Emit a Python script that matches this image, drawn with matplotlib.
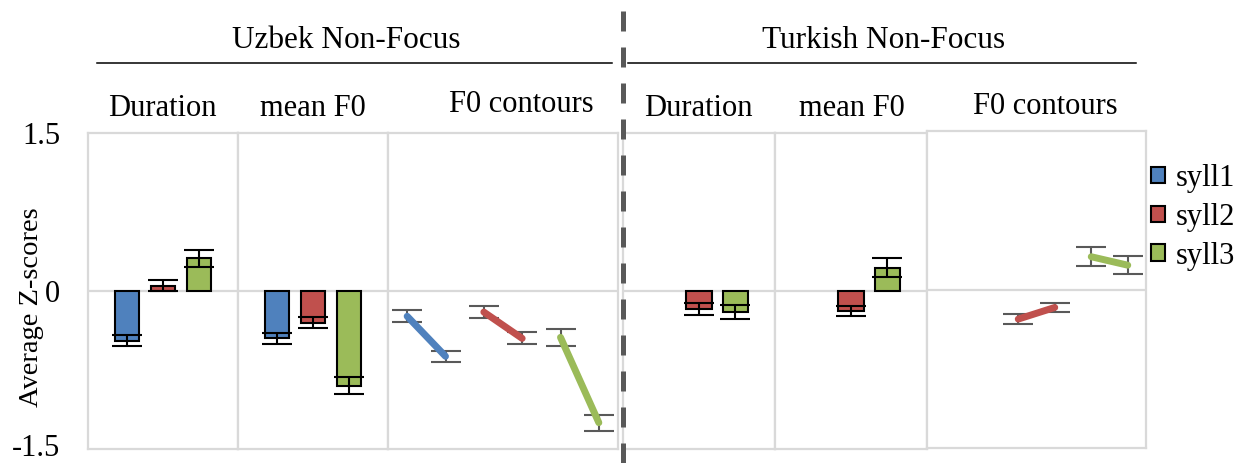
import numpy as np
import matplotlib
matplotlib.use("Agg")
import matplotlib.pyplot as plt
from matplotlib.lines import Line2D
from matplotlib.patches import Patch
from matplotlib.transforms import ScaledTranslation

plt.rcParams['font.family'] = ['Liberation Serif', 'DejaVu Serif']

# ---------------- data ----------------
series = ["syll1", "syll2", "syll3"]
colors = ["#4F81BD", "#C0504D", "#9BBB59"]

uz_dur_mean = [-0.47, 0.05, 0.31]
uz_dur_err = [0.05, 0.05, 0.08]
uz_f0_mean = [-0.45, -0.30, -0.90]
uz_f0_err = [0.05, 0.055, 0.08]
uz_cont_start = [-0.24, -0.20, -0.44]
uz_cont_end = [-0.62, -0.45, -1.25]
uz_cont_start_err = [0.055, 0.055, 0.08]
uz_cont_end_err = [0.05, 0.057, 0.075]

tr_dur_mean = [np.nan, -0.17, -0.20]
tr_dur_err = [np.nan, 0.057, 0.063]
tr_f0_mean = [np.nan, -0.19, 0.22]
tr_f0_err = [np.nan, 0.045, 0.09]
tr_cont_start = [np.nan, -0.28, 0.31]
tr_cont_end = [np.nan, -0.17, 0.23]
tr_cont_start_err = [np.nan, 0.05, 0.09]
tr_cont_end_err = [np.nan, 0.045, 0.085]

yticks = [-1.5, 0, 1.5]
ytick_labels = ["-1.5", "0", "1.5"]
group_titles = ["Uzbek Non-Focus", "Turkish Non-Focus"]
panel_titles = ["Duration", "mean F0", "F0 contours"]
ylabel = "Average Z-scores"

# ---------------- layout ----------------
W, H = 1239, 463
fig = plt.figure(figsize=(W / 100, H / 100), dpi=100)
FS = 22


def rect(x0, x1, y0, y1):
    return [x0 / W, 1 - y1 / H, (x1 - x0) / W, (y1 - y0) / H]


grid_c = "#d9d9d9"
err_gray = "#595959"


def style(ax):
    ax.set_ylim(-1.5, 1.5)
    for s in ax.spines.values():
        s.set_color(grid_c)
        s.set_linewidth(1.6)
    ax.axhline(0, color=grid_c, lw=1.6, zorder=1)
    ax.set_xticks([])
    ax.set_yticks([])


def bar_panel(ax, means, errs):
    style(ax)
    x = np.arange(len(means))
    ax.set_xlim(1 - 75 / 36, 1 + 75 / 36)
    for i in range(len(means)):
        if np.isnan(means[i]):
            continue
        ax.bar(x[i], means[i], width=0.69, color=colors[i], edgecolor="black",
               linewidth=1.5, zorder=2)
        ax.errorbar(x[i], means[i], yerr=errs[i], fmt="none", ecolor="black",
                    elinewidth=1.5, capsize=11, capthick=1.5, zorder=3)


def contour_panel(ax, starts, ends, serr, eerr):
    style(ax)
    pos = np.arange(2 * len(starts)).reshape(len(starts), 2)
    ax.set_xlim(-0.5, 2 * len(starts) - 0.5)
    for i in range(len(starts)):
        if np.isnan(starts[i]):
            continue
        ax.errorbar(pos[i], [starts[i], ends[i]], yerr=[serr[i], eerr[i]], fmt="none",
                    ecolor=err_gray, elinewidth=1.5, capsize=11, capthick=1.5, zorder=2)
        ax.plot(pos[i], [starts[i], ends[i]], color=colors[i], lw=5,
                solid_capstyle="round", zorder=3)


ax1 = fig.add_axes(rect(88, 238, 133, 449))
ax2 = fig.add_axes(rect(238, 388, 133, 449))
ax3 = fig.add_axes(rect(388, 618, 133, 449))
ax4 = fig.add_axes(rect(623, 775, 133, 449))
ax5 = fig.add_axes(rect(775, 927, 133, 449))
ax6 = fig.add_axes(rect(927, 1146, 131, 448))

bar_panel(ax1, uz_dur_mean, uz_dur_err)
bar_panel(ax2, uz_f0_mean, uz_f0_err)
contour_panel(ax3, uz_cont_start, uz_cont_end, uz_cont_start_err, uz_cont_end_err)
bar_panel(ax4, tr_dur_mean, tr_dur_err)
bar_panel(ax5, tr_f0_mean, tr_f0_err)
contour_panel(ax6, tr_cont_start, tr_cont_end, tr_cont_start_err, tr_cont_end_err)

# y tick labels on first panel
ax1.set_yticks(yticks)
ax1.set_yticklabels(ytick_labels, fontsize=FS)
ax1.tick_params(axis="y", length=0, pad=20)
# lift the bottom label slightly so it stays inside the canvas
bottom_lab = ax1.yaxis.get_major_ticks()[0].label1
bottom_lab.set_transform(bottom_lab.get_transform()
                         + ScaledTranslation(0, 4 / 100, fig.dpi_scale_trans))
ax1.set_ylabel(ylabel, fontsize=20.5)
ax1.yaxis.set_label_coords(-44 / 150, (449 - 307) / 316)


def ftext(x, y, s, **kw):
    fig.text(x / W, 1 - y / H, s, ha="center", va="baseline", **kw)


# group headers
ftext(346, 48, group_titles[0], fontsize=FS + 0.5)
ftext(884, 48, group_titles[1], fontsize=FS + 0.5)
fig.add_artist(Line2D([97 / W, 612 / W], [1 - 62.5 / H] * 2, color="black", lw=1.1))
fig.add_artist(Line2D([628 / W, 1136 / W], [1 - 62.5 / H] * 2, color="black", lw=1.1))

# panel subtitles
ftext(162.5, 116.5, panel_titles[0], fontsize=FS)
ftext(313, 116.5, panel_titles[1], fontsize=FS)
ftext(521.5, 111.5, panel_titles[2], fontsize=FS)
ftext(698, 116.5, panel_titles[0], fontsize=FS)
ftext(852, 116.5, panel_titles[1], fontsize=FS)
ftext(1045, 113.5, panel_titles[2], fontsize=FS)

# dashed divider
fig.add_artist(Line2D([623 / W, 623 / W], [0, 1 - 10 / H], color=err_gray, lw=3.6,
                      linestyle=(0, (4.0, 3.2))))

# legend
handles = [Patch(facecolor=c, edgecolor="black", linewidth=1.5) for c in colors]
fig.legend(handles, series, loc="upper left", bbox_to_anchor=(1151 / W, 1 - 164 / H),
           frameon=False, fontsize=FS, handlelength=0.45, handleheight=0.45,
           handletextpad=0.35, labelspacing=0.32, borderpad=0, borderaxespad=0)

fig.savefig("out.png", dpi=100)
